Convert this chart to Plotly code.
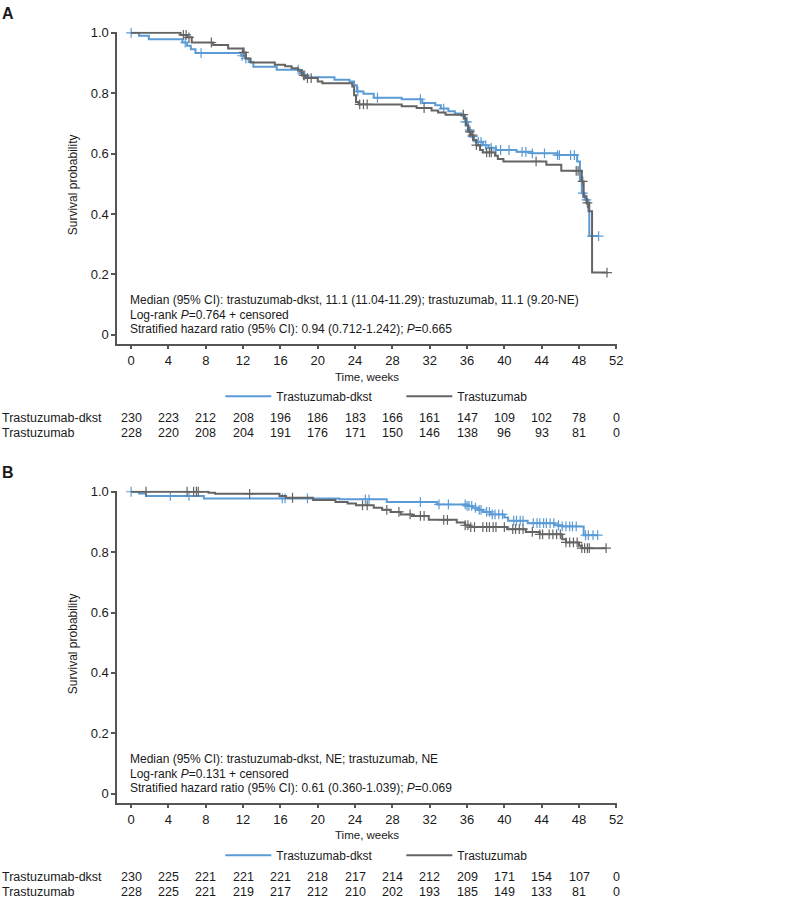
import numpy as np
import plotly.graph_objects as go

W, H = 789, 898
FONT = "Liberation Sans, Arial, sans-serif"
BLUE = "#5b9bd5"
GRAY = "#646464"
AXIS = "#555555"

weeks = list(range(0, 53, 4))

# Panel A: step points (week, survival probability)
a_dkst_t = [0, 0.85, 1.9, 5.5, 6.0, 6.4, 6.9, 11.8, 12.2, 12.6, 13.1, 15.6, 18.1, 18.5, 18.9,
            21.8, 23.4, 23.9, 24.2, 24.9, 26.0, 29.0, 31.2, 32.6, 33.2, 34.0, 34.7, 35.4, 35.8,
            36.1, 36.4, 36.7, 37.0, 37.7, 38.3, 39.1, 41.3, 43.0, 45.7, 47.8, 48.1, 48.3, 48.6,
            49.0, 49.1]
a_dkst_s = [1.0, 0.99, 0.979, 0.968, 0.957, 0.946, 0.933, 0.924, 0.915, 0.903, 0.888, 0.878,
            0.866, 0.859, 0.853, 0.845, 0.839, 0.826, 0.806, 0.798, 0.785, 0.780, 0.768, 0.760,
            0.749, 0.740, 0.733, 0.725, 0.705, 0.678, 0.656, 0.645, 0.639, 0.628, 0.619, 0.612,
            0.606, 0.601, 0.595, 0.574, 0.513, 0.469, 0.447, 0.409, 0.327]
a_dkst_end = 50.1
a_dkst_cens = [0, 5.8, 7.5, 11.9, 12.3, 17.9, 18.6, 24.3, 26.4, 31.0, 33.5, 35.8, 36.0, 36.3,
               36.6, 37.2, 37.5, 38.0, 38.6, 39.1, 39.6, 40.5, 41.9, 42.3, 43.0, 44.3, 45.7,
               45.9, 47.1, 47.5, 48.4, 48.8, 49.4, 50.1]

a_tras_t = [0, 5.3, 6.0, 6.5, 8.8, 10.4, 12.0, 12.3, 12.8, 15.4, 16.5, 17.2, 17.9, 18.3, 18.7,
            20.0, 20.5, 23.7, 23.9, 24.1, 24.4, 29.0, 30.6, 32.2, 32.9, 33.7, 35.7, 35.9, 36.1,
            36.4, 36.7, 37.0, 37.4, 37.7, 39.0, 39.3, 39.9, 44.5, 46.1, 48.3, 48.5, 48.8, 49.1,
            49.4]
a_tras_s = [1.0, 0.993, 0.985, 0.968, 0.96, 0.948, 0.935, 0.915, 0.902, 0.894, 0.889, 0.883,
            0.875, 0.859, 0.85, 0.839, 0.833, 0.822, 0.793, 0.771, 0.763, 0.757, 0.751, 0.743,
            0.736, 0.729, 0.716, 0.694, 0.672, 0.661, 0.645, 0.628, 0.612, 0.604, 0.593, 0.582,
            0.574, 0.563, 0.543, 0.508, 0.458, 0.437, 0.409, 0.206]
a_tras_end = 51.0
a_tras_cens = [5.6, 5.9, 6.2, 8.6, 12.1, 18.5, 18.9, 19.3, 24.5, 24.9, 25.3, 31.4, 35.6, 36.3,
               36.6, 37.0, 38.1, 38.4, 38.6, 43.4, 47.7, 47.9, 48.4, 48.9, 51.0]

a_risk_dkst = [230, 223, 212, 208, 196, 186, 183, 166, 161, 147, 109, 102, 78, 0]
a_risk_tras = [228, 220, 208, 204, 191, 176, 171, 150, 146, 138, 96, 93, 81, 0]

a_notes = [
    "Median (95% CI): trastuzumab-dkst, 11.1 (11.04-11.29); trastuzumab, 11.1 (9.20-NE)",
    "Log-rank <i>P</i>=0.764 + censored",
    "Stratified hazard ratio (95% CI): 0.94 (0.712-1.242); <i>P</i>=0.665",
]

# Panel B
b_dkst_t = [0, 0.85, 1.6, 7.8, 22.3, 27.4, 32.8, 36.0, 36.6, 37.2, 37.7, 38.5, 40.0, 40.4,
            42.5, 45.4, 46.2, 48.5]
b_dkst_s = [1.0, 0.994, 0.986, 0.978, 0.975, 0.966, 0.958, 0.953, 0.947, 0.940, 0.933, 0.925,
            0.915, 0.904, 0.896, 0.889, 0.885, 0.856]
b_dkst_end = 50.0
b_dkst_cens = [0, 4.2, 6.2, 16.2, 16.5, 18.9, 25.1, 25.5, 31.0, 33.0, 34.0, 35.8, 36.0, 36.2,
               36.5, 36.9, 37.3, 37.5, 38.1, 38.4, 38.7, 39.0, 39.4, 39.8, 41.0, 41.3, 41.7,
               42.0, 43.1, 43.5, 43.8, 44.2, 44.5, 44.9, 45.3, 45.8, 46.2, 46.6, 47.0, 47.3,
               47.7, 48.7, 49.0, 49.5, 50.0]

b_tras_t = [0, 8.3, 9.0, 15.9, 16.6, 19.5, 21.9, 23.2, 24.1, 26.0, 26.9, 27.8, 28.9, 30.1,
            31.9, 34.9, 35.8, 36.3, 40.3, 42.3, 43.8, 46.2, 46.6, 48.0, 48.3]
b_tras_s = [1.0, 0.997, 0.993, 0.986, 0.980, 0.973, 0.966, 0.961, 0.955, 0.947, 0.94, 0.933,
            0.925, 0.920, 0.907, 0.898, 0.889, 0.883, 0.876, 0.867, 0.859, 0.843, 0.832, 0.821,
            0.813]
b_tras_end = 50.9
b_tras_cens = [1.6, 6.0, 6.7, 7.0, 7.2, 12.7, 17.3, 24.8, 25.3, 27.4, 28.7, 29.9, 31.0, 31.4,
               33.5, 33.9, 35.8, 36.1, 36.4, 36.8, 37.7, 38.1, 38.4, 38.8, 39.1, 40.0, 40.9,
               41.2, 41.6, 42.0, 43.0, 43.8, 44.1, 44.8, 45.2, 45.6, 46.0, 46.6, 47.0, 47.4,
               47.8, 48.3, 48.6, 48.9, 49.1, 50.9]

b_risk_dkst = [230, 225, 221, 221, 221, 218, 217, 214, 212, 209, 171, 154, 107, 0]
b_risk_tras = [228, 225, 221, 219, 217, 212, 210, 202, 193, 185, 149, 133, 81, 0]

b_notes = [
    "Median (95% CI): trastuzumab-dkst, NE; trastuzumab, NE",
    "Log-rank <i>P</i>=0.131 + censored",
    "Stratified hazard ratio (95% CI): 0.61 (0.360-1.039); <i>P</i>=0.069",
]


def px_x(p):
    return p / W


def px_y(p):
    return 1 - p / H


def on_curve(t, s, cens):
    idx = np.searchsorted(np.asarray(t), np.asarray(cens), side="right") - 1
    return np.asarray(s)[idx]


panels = [
    dict(tag="A", off=0, xa="x", ya="y", lg="legend",
         dkst=(a_dkst_t, a_dkst_s, a_dkst_end, a_dkst_cens),
         tras=(a_tras_t, a_tras_s, a_tras_end, a_tras_cens),
         risk=(a_risk_dkst, a_risk_tras), notes=a_notes),
    dict(tag="B", off=462, xa="x2", ya="y2", lg="legend2",
         dkst=(b_dkst_t, b_dkst_s, b_dkst_end, b_dkst_cens),
         tras=(b_tras_t, b_tras_s, b_tras_end, b_tras_cens),
         risk=(b_risk_dkst, b_risk_tras), notes=b_notes),
]

fig = go.Figure()
annotations = []
txt = dict(family=FONT, color="#1a1a1a")


def note(text, x, y, size, xanchor="left", xref="paper", **kw):
    # every label is pinned by its middle so paper-position "auto" anchoring never kicks in
    annotations.append(dict(text=text, x=x, y=y, xref=xref, yref="paper", xanchor=xanchor,
                            yanchor="middle", showarrow=False, font=dict(size=size, **txt), **kw))


for p in panels:
    for key, name, color in [("dkst", "Trastuzumab-dkst", BLUE), ("tras", "Trastuzumab", GRAY)]:
        t, s, end, cens = p[key]
        fig.add_trace(go.Scatter(
            x=list(t) + [end], y=list(s) + [s[-1]],
            mode="lines", line=dict(color=color, width=2, shape="hv"),
            name=name, xaxis=p["xa"], yaxis=p["ya"], legend=p["lg"],
            hoverinfo="skip",
        ))
        fig.add_trace(go.Scatter(
            x=cens, y=on_curve(t, s, cens), mode="markers",
            marker=dict(symbol="cross-thin", size=7, line=dict(color=color, width=1.2)),
            showlegend=False, xaxis=p["xa"], yaxis=p["ya"], cliponaxis=False,
            hoverinfo="skip",
        ))

    o = p["off"]
    note("<b>%s</b>" % p["tag"], 0, px_y(8 + o), 16)
    note("Survival probability", px_x(73), px_y(180 + o), 12, xanchor="center", textangle=-90)
    note("Time, weeks", px_x(370), px_y(373 + o), 11.5, xanchor="center")
    for i, line in enumerate(p["notes"]):
        note(line, px_x(129), px_y([296, 311, 325][i] + o), 12)
    for row, (label, counts) in enumerate(zip(["Trastuzumab-dkst", "Trastuzumab"], p["risk"])):
        yy = px_y([415, 430][row] + o)
        note(label, 0, yy, 12.5)
        for wk, n in zip(weeks, counts):
            note(str(n), wk, yy, 12.5, xanchor="center", xref=p["xa"])

axis_common = dict(showgrid=False, zeroline=False, showline=True, linecolor=AXIS, linewidth=1.5,
                   ticks="outside", ticklen=4, tickwidth=1.5, tickcolor=AXIS,
                   tickfont=dict(size=13, family=FONT, color="#1a1a1a"))
xdom = [px_x(118), px_x(622)]
xr = [-1.5, 52.1]
yr = [-9 / 304, 1 + 1 / 304]
yvals = [0, 0.2, 0.4, 0.6, 0.8, 1.0]
ytext = ["0", "0.2", "0.4", "0.6", "0.8", "1.0"]
legend_style = dict(orientation="h", xanchor="left", yanchor="middle", itemwidth=46,
                    entrywidth=120, entrywidthmode="pixels",
                    font=dict(size=12, family=FONT, color="#1a1a1a"), bgcolor="rgba(0,0,0,0)")

fig.update_layout(
    width=W, height=H, margin=dict(l=0, r=0, t=0, b=0),
    paper_bgcolor="white", plot_bgcolor="white",
    font=dict(family=FONT, color="#1a1a1a"),
    hovermode=False,
    xaxis=dict(domain=xdom, range=xr, tickvals=weeks, anchor="y", **axis_common),
    yaxis=dict(domain=[px_y(340), px_y(26)], range=yr, tickvals=yvals, ticktext=ytext,
               anchor="x", **axis_common),
    xaxis2=dict(domain=xdom, range=xr, tickvals=weeks, anchor="y2", **axis_common),
    yaxis2=dict(domain=[px_y(802), px_y(488)], range=yr, tickvals=yvals, ticktext=ytext,
                anchor="x2", **axis_common),
    legend=dict(x=px_x(222), y=px_y(393), **legend_style),
    legend2=dict(x=px_x(222), y=px_y(855), **legend_style),
    annotations=annotations,
    showlegend=True,
)

fig.write_html("out.html", config={"displayModeBar": False},
               post_script="document.body.style.margin='0px';")
